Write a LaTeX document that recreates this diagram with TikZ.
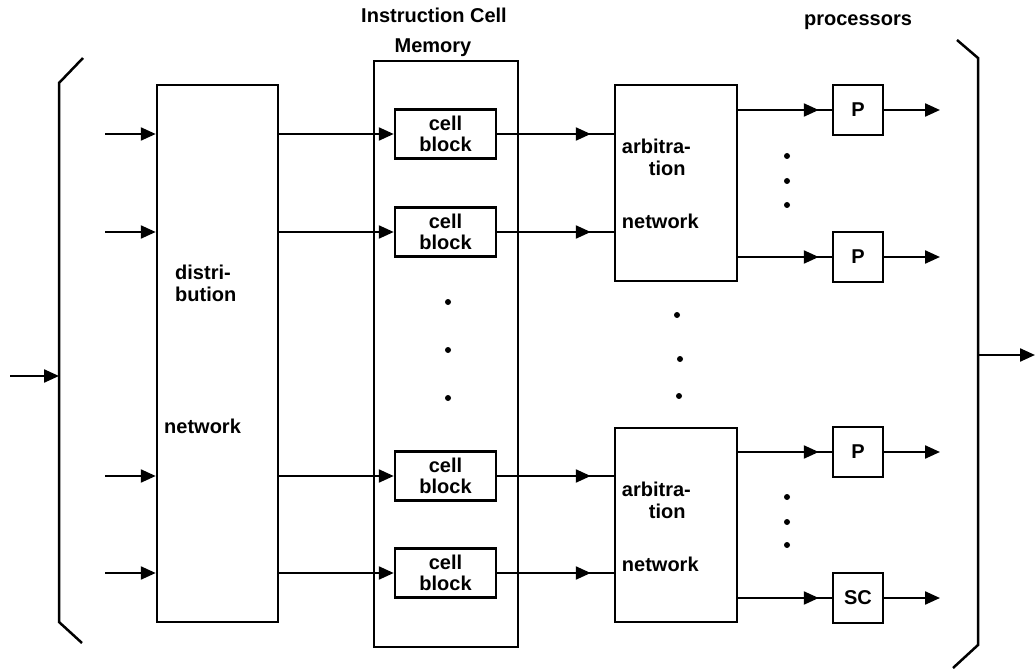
\documentclass[tikz,border=0pt]{standalone}
\usepackage{fontspec}
\setmainfont{Liberation Sans}
\usetikzlibrary{arrows.meta,positioning,calc,decorations.markings}
\tikzset{
  base/.style={draw,line width=2.5pt,inner sep=0pt,font=\bfseries\fontsize{20}{21}\selectfont,align=center},
  netbox/.style={base,minimum width=122pt},
  cellbox/.style={base,minimum width=101pt,minimum height=49pt},
  procbox/.style={base,minimum width=50pt,minimum height=50pt},
  lbl/.style={font=\bfseries\fontsize{20}{22}\selectfont,align=left,inner sep=0pt},
  wire/.style={line width=2.3pt},
  flow/.style={wire,-{Triangle[length=15pt,width=13pt]}},
  midtip/.style={wire,postaction={decorate},decoration={markings,mark=at position -#1 with {\arrow{Triangle[length=15pt,width=13pt]}}}},
  dot/.style={circle,fill,inner sep=0pt,minimum size=6pt}
}
\begin{document}
\begin{tikzpicture}[x=1pt,y=-1pt]
\useasboundingbox (0,0) rectangle (1036,671);
% brackets
\draw[wire,line width=2.5pt] (83,58) -- (59,83) -- (59,622) -- (82,643);
\draw[wire,line width=2.5pt] (957,40) -- (978,58) -- (978,645) -- (953,668);
\coordinate (src) at (10,376);
\coordinate (lb) at (59,376);
\coordinate (rb) at (978,355);
\coordinate (sink) at (1035,355);
\draw[flow] (src) -- (lb);
\draw[flow] (rb) -- (sink);

% distribution network
\node[base,minimum width=121pt,minimum height=537pt] (dist) at (217.5,353.5) {};
\node[lbl,anchor=west] (distlbl) at (175,283) {distri-\\bution};
\node[lbl,anchor=west] (distnet) at (164,426) {network};

% instruction cell memory
\node[base,minimum width=144pt,minimum height=586pt] (mem) at (446,354) {};
\node[lbl] (titlea) at (434,15) {Instruction Cell};
\node[lbl] (titleb) at (433,48) {Memory};
\node[cellbox] (c1) at (445.5,134) {cell\\block};
\node[cellbox] (c2) at (445.5,232) {cell\\block};
\node[cellbox] (c3) at (445.5,476) {cell\\block};
\node[cellbox] (c4) at (445.5,573) {cell\\block};
\foreach \y [count=\i] in {302,350,398}
  \node[dot] (md\i) at (448,\y) {};

% arbitration networks
\node[netbox,minimum height=196pt] (a1) at (676,183) {};
\node[netbox,minimum height=194pt] (a2) at (676,525) {};
\foreach \a in {a1,a2} {
  \node[lbl,anchor=west] (\a-t) at ($(\a.north west)+(8,74)$) {arbitra-\\\hspace*{27pt}tion};
  \node[lbl,anchor=west] (\a-n) at ($(\a.north west)+(8,138)$) {network};
}
\foreach \x/\y [count=\i] in {677/315,680/359,679/396}
  \node[dot] (ad\i) at (\x,\y) {};

% processors
\node[lbl] (proclbl) at (858,22) {processors};
\node[procbox] (p1) at (858,110) {P};
\node[procbox] (p2) at (858,257) {P};
\node[procbox] (p3) at (858,452) {P};
\node[procbox] (sc) at (858,598) {SC};
\foreach \y [count=\i] in {156,181,205,497,522,545}
  \node[dot] (pd\i) at (787,\y) {};

% connectors
\foreach \c [count=\i] in {c1,c2,c3,c4} {
  \coordinate (in\i) at (105,0 |- \c);
  \draw[flow] (in\i) -- (dist.west |- \c);
  \draw[flow] (dist.east |- \c) -- (\c.west);
}
\draw[midtip=23pt] (c1.east) -- (a1.west |- c1);
\draw[midtip=23pt] (c2.east) -- (a1.west |- c2);
\draw[midtip=23pt] (c3.east) -- (a2.west |- c3);
\draw[midtip=23pt] (c4.east) -- (a2.west |- c4);
\draw[midtip=13pt] (a1.east |- p1) -- (p1.west);
\draw[midtip=13pt] (a1.east |- p2) -- (p2.west);
\draw[midtip=13pt] (a2.east |- p3) -- (p3.west);
\draw[midtip=13pt] (a2.east |- sc) -- (sc.west);
\foreach \p in {p1,p2,p3,sc} {
  \coordinate (\p-out) at (940,0 |- \p);
  \draw[flow] (\p.east) -- (\p-out);
}
\end{tikzpicture}
\end{document}
